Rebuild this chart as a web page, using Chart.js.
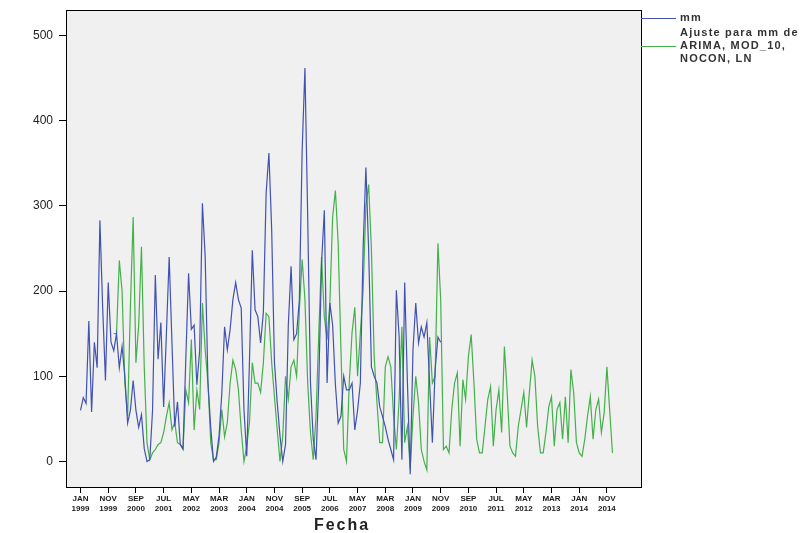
<!DOCTYPE html>
<html lang="es">
<head>
<meta charset="UTF-8">
<title>mm - Ajuste ARIMA</title>
<script src="https://cdn.jsdelivr.net/npm/chart.js"></script>
<style>
  body { margin: 0; background: #fff; }
  #wrap { position: relative; width: 803px; height: 533px; }
  .leyenda-linea { position: absolute; height: 1px; }
  .leyenda-texto { position: absolute; font-family: "Liberation Sans", Arial, sans-serif; font-size: 11px; font-weight: bold; color: #333; letter-spacing: 1.2px; line-height: 13px; white-space: nowrap; }
  #titulo-x { position: absolute; left: 292px; width: 100px; top: 516px; text-align: center; font-family: "Liberation Sans", Arial, sans-serif; font-size: 16px; font-weight: bold; color: #222; letter-spacing: 2px; }
</style>
</head>
<body>
<div id="wrap">
  <canvas id="grafico" width="803" height="533"></canvas>
  <div class="leyenda-linea" style="left:641px; top:18px; width:35px; background:#4152b0;"></div>
  <div class="leyenda-texto" style="left:680px; top:11px;">mm</div>
  <div class="leyenda-linea" style="left:641px; top:46px; width:35px; background:#44b04a;"></div>
  <div class="leyenda-texto" style="left:680px; top:26px;">Ajuste para mm de<br>ARIMA, MOD_10,<br>NOCON, LN</div>
  <div id="titulo-x">Fecha</div>
</div>

<script>
// meses desde ENE 1999 (indice 0)
const mmVals = [
  60, 75, 68, 165, 58, 140, 110, 283, 180, 95,
  210, 140, 130, 150, 110, 135, 100, 45, 60, 95,
  60, 40, 55, 15, 0, 2, 60, 219, 120, 163,
  64, 150, 240, 140, 41, 70, 20, 15, 120, 221,
  155, 160, 90, 130, 303, 240, 92, 40, 0, 5,
  30, 80, 158, 131, 155, 190, 210, 190, 180, 60,
  6, 120, 248, 178, 170, 139, 175, 315, 362, 272,
  116, 69, 30, 0, 20, 160, 229, 143, 150, 190,
  365, 462, 287, 92, 26, 2, 92, 233, 295, 92,
  186, 160, 90, 45, 53, 100, 84, 84, 92, 37,
  60, 92, 250, 345, 248, 111, 100, 92, 64, 53,
  41, 26, 14, 2, 201, 146, 2, 210, 92, -15,
  131, 186, 139, 158, 146, 163, 92, 22, 108, 146,
  140
];

// el ajuste empieza en ENE 2000
const ajusteInicio = 12;
const ajusteVals = [
  150, 150, 236, 200, 92, 53, 181, 287,
  116, 160, 252, 111, 22, 2, 10, 14, 20, 22,
  34, 53, 69, 37, 46, 22, 20, 14, 84, 69,
  143, 37, 84, 61, 186, 131, 92, 22, 2, 2,
  22, 61, 29, 46, 92, 119, 108, 84, 37, 0,
  18, 46, 116, 92, 92, 81, 116, 174, 170, 116,
  76, 37, 0, 30, 100, 73, 111, 119, 100, 178,
  237, 190, 92, 34, 2, 53, 151, 240, 170, 143,
  186, 287, 318, 256, 131, 14, 0, 92, 151, 181,
  100, 151, 200, 300, 325, 248, 123, 69, 22, 22,
  111, 123, 111, 53, 14, 73, 158, 22, 41, -9,
  53, 100, 69, 14, 0, -10, 146, 92, 100, 256,
  190, 14, 18, 10, 61, 92, 104, 18, 96, 73,
  123, 149, 92, 26, 10, 10, 41, 73, 88, 18,
  61, 84, 34, 135, 81, 18, 10, 6, 41, 61,
  81, 40, 81, 119, 100, 41, 10, 10, 34, 64,
  76, 18, 61, 69, 26, 76, 22, 108, 81, 22,
  10, 6, 26, 53, 76, 26, 61, 73, 34, 57,
  111, 60, 10
];

// etiquetas del eje X cada 10 meses
const xTickIdx = [0, 10, 20, 30, 40, 50, 60, 70, 80, 90, 100, 110, 120, 130, 140, 150, 160, 170, 180, 190];
const xTickLabels = ['JAN 1999', 'NOV 1999', 'SEP 2000', 'JUL 2001', 'MAY 2002', 'MAR 2003', 'JAN 2004', 'NOV 2004',
  'SEP 2005', 'JUL 2006', 'MAY 2007', 'MAR 2008', 'JAN 2009', 'NOV 2009', 'SEP 2010', 'JUL 2011',
  'MAY 2012', 'MAR 2013', 'JAN 2014', 'NOV 2014'];
const yTicks = [0, 100, 200, 300, 400, 500];

const fondo = {
  id: 'fondo',
  beforeDraw(chart) {
    const { ctx, chartArea: a } = chart;
    ctx.save();
    ctx.fillStyle = '#ffffff';
    ctx.fillRect(0, 0, chart.width, chart.height);
    ctx.fillStyle = '#f0f0f0';
    ctx.fillRect(a.left, a.top, a.right - a.left, a.bottom - a.top);
    ctx.restore();
  },
  afterDraw(chart) {
    const { ctx, chartArea: a } = chart;
    ctx.save();
    ctx.strokeStyle = '#000';
    ctx.lineWidth = 1;
    ctx.strokeRect(a.left + 0.5, a.top + 0.5, a.right - a.left, a.bottom - a.top);
    ctx.restore();
  }
};

new Chart(document.getElementById('grafico'), {
  type: 'line',
  data: {
    datasets: [{
      label: 'mm',
      data: mmVals.map((v, i) => ({ x: i, y: v })),
      borderColor: '#4152b0',
      borderWidth: 1.2,
      pointRadius: 0,
      tension: 0
    }, {
      label: 'Ajuste para mm de ARIMA, MOD_10, NOCON, LN',
      data: ajusteVals.map((v, i) => ({ x: i + ajusteInicio, y: v })),
      borderColor: '#44b04a',
      borderWidth: 1.2,
      pointRadius: 0,
      tension: 0
    }]
  },
  options: {
    responsive: false,
    animation: false,
    devicePixelRatio: 1,
    layout: { padding: { top: 10, right: 162, left: 0, bottom: 0 } },
    plugins: { legend: { display: false }, tooltip: { enabled: false } },
    scales: {
      x: {
        type: 'linear',
        min: -5.24,
        max: 202.3,
        grid: { drawOnChartArea: false, drawTicks: true, tickLength: 6, color: '#000' },
        border: { display: true, color: '#000' },
        afterBuildTicks: s => { s.ticks = xTickIdx.map(v => ({ value: v })); },
        afterFit: s => { s.height = 46; },
        ticks: {
          autoSkip: false,
          maxRotation: 0,
          padding: 1,
          color: '#222',
          font: { family: 'Liberation Sans', size: 8, weight: 'bold', lineHeight: 1.25 },
          callback: v => {
            const k = xTickIdx.indexOf(v);
            return k >= 0 ? xTickLabels[k].split(' ') : '';
          }
        }
      },
      y: {
        min: -30,
        max: 530,
        grid: { drawOnChartArea: false, drawTicks: true, tickLength: 7, color: '#000' },
        border: { display: true, color: '#000' },
        afterBuildTicks: s => { s.ticks = yTicks.map(v => ({ value: v })); },
        afterFit: s => { s.width = 66; },
        ticks: {
          padding: 6,
          color: '#222',
          font: { family: 'Liberation Sans', size: 12, lineHeight: 0.2 }
        }
      }
    }
  },
  plugins: [fondo]
});
</script>
</body>
</html>
